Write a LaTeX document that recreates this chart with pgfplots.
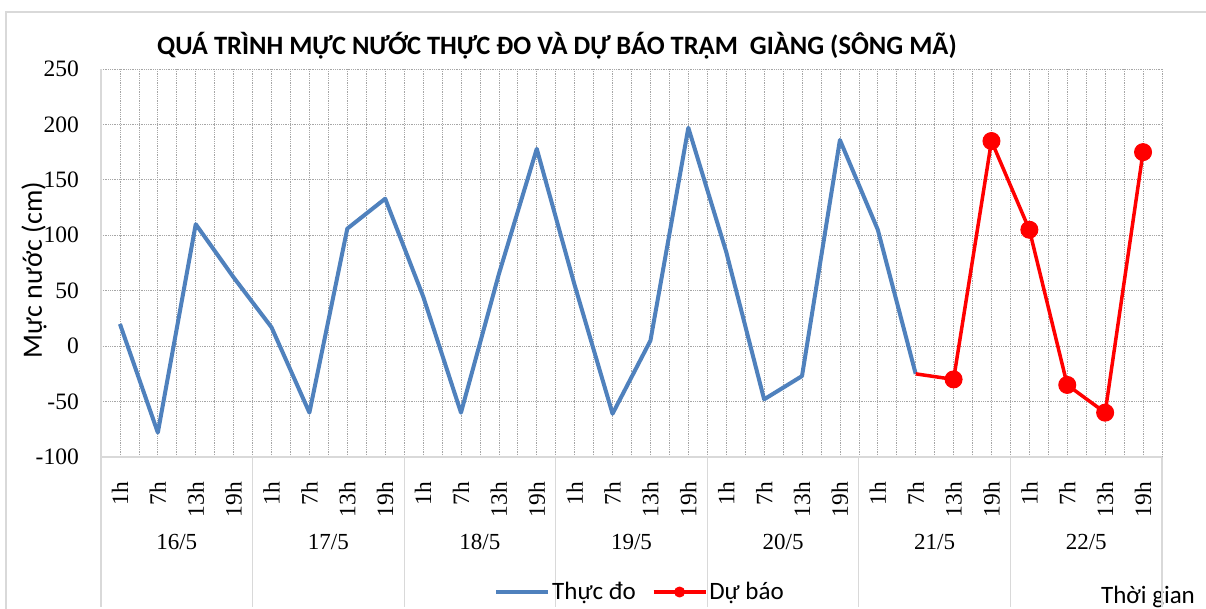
\documentclass[border=0pt]{standalone}
\usepackage{fontspec}
\setmainfont{Liberation Serif}
\newfontfamily\calfont{Carlito}
\usepackage{pgfplots}
\pgfplotsset{compat=1.18}
\definecolor{xlblue}{HTML}{4F81BD}
\definecolor{xlgrid}{HTML}{A6A6A6}
\definecolor{xlaxis}{HTML}{D9D9D9}
\begin{document}
\begin{tikzpicture}[x=1pt,y=1pt]
\useasboundingbox (0,0) rectangle (1206,609);
\fill[white] (0,0) rectangle (1206,609);
% chart frame
\draw[xlaxis, line width=1.2pt] (6,0) -- (6,597) -- (1206,597);
% title
\node[font=\calfont\bfseries\fontsize{26.5}{28}\selectfont, inner sep=0pt] at (557,563) {QUÁ TRÌNH MỰC NƯỚC THỰC ĐO VÀ DỰ BÁO TRẠM~ GIÀNG (SÔNG MÃ)};
% y label
\node[font=\calfont\fontsize{28}{30}\selectfont, rotate=90, inner sep=0pt] at (34,339) {Mực nước (cm)};
% x label
\node[font=\calfont\fontsize{25}{27}\selectfont, inner sep=0pt] at (1148,12) {Thời gian};
\begin{axis}[
  at={(101pt,152pt)}, anchor=south west,
  scale only axis, width=1061pt, height=388pt,
  xmin=-0.5, xmax=27.5, ymin=-100, ymax=250,
  ytick={-100,-50,...,250},
  xtick={0,...,27},
  xticklabels={1h,7h,13h,19h,1h,7h,13h,19h,1h,7h,13h,19h,1h,7h,13h,19h,1h,7h,13h,19h,1h,7h,13h,19h,1h,7h,13h,19h},
  minor xtick={-0.5,0.5,...,27.5},
  xmajorgrids, xminorgrids, ymajorgrids,
  major grid style={xlgrid, line width=0.7pt, dash pattern=on 0.9pt off 0.9pt},
  minor grid style={xlgrid, line width=0.7pt, dash pattern=on 0.9pt off 0.9pt},
  axis x line*=bottom, axis y line*=left,
  axis line style={xlaxis, line width=1.2pt, -},
  major tick length=0pt, minor tick length=0pt,
  xticklabel style={rotate=90, anchor=east, inner sep=0pt, font=\fontsize{23.5}{23.5}\selectfont},
  xticklabel shift=25pt,
  yticklabel style={anchor=east, inner sep=0pt, font=\fontsize{23.5}{23.5}\selectfont},
  yticklabel shift=22pt,
  /pgf/number format/assume math mode=true,
  clip=false,
  legend columns=2,
  legend style={at={(0.508,-0.348)}, anchor=center, draw=none, fill=none,
    font=\calfont\fontsize{25}{27}\selectfont, inner sep=0pt,
    /tikz/every even column/.append style={column sep=14pt}},
  legend image code/.code={\draw[#1, mark size=5pt, mark repeat=2, mark phase=2] plot coordinates {(0pt,0pt) (26pt,0pt) (52pt,0pt)};},
]
\addplot[xlblue, line width=4pt, line join=round] coordinates {
(0,20) (1,-78) (2,110) (3,62)
(4,17) (5,-60) (6,106) (7,133)
(8,45) (9,-60) (10,65) (11,178)
(12,55) (13,-61) (14,5) (15,197)
(16,85) (17,-48) (18,-27) (19,186)
(20,105) (21,-25)
};
\addlegendentry{Thực đo}
\addplot[red, line width=3.5pt, line join=round, mark=*, mark size=8.5pt, mark options={fill=red, line width=1pt}, mark phase=2, mark repeat=1] coordinates {
(21,-25) (22,-30) (23,185)
(24,105) (25,-35) (26,-60) (27,175)
};
\addlegendentry{Dự báo}
% day separators
\pgfplotsinvokeforeach{-0.5,3.5,7.5,11.5,15.5,19.5,23.5,27.5}{
  \draw[xlaxis, line width=1.2pt] (axis cs:#1,-100) -- ++(0pt,-150pt);
}
\node[font=\fontsize{23}{23}\selectfont, inner sep=0pt] at (axis cs:1.5,-100) [yshift=-85pt] {16/5};
\node[font=\fontsize{23}{23}\selectfont, inner sep=0pt] at (axis cs:5.5,-100) [yshift=-85pt] {17/5};
\node[font=\fontsize{23}{23}\selectfont, inner sep=0pt] at (axis cs:9.5,-100) [yshift=-85pt] {18/5};
\node[font=\fontsize{23}{23}\selectfont, inner sep=0pt] at (axis cs:13.5,-100) [yshift=-85pt] {19/5};
\node[font=\fontsize{23}{23}\selectfont, inner sep=0pt] at (axis cs:17.5,-100) [yshift=-85pt] {20/5};
\node[font=\fontsize{23}{23}\selectfont, inner sep=0pt] at (axis cs:21.5,-100) [yshift=-85pt] {21/5};
\node[font=\fontsize{23}{23}\selectfont, inner sep=0pt] at (axis cs:25.5,-100) [yshift=-85pt] {22/5};
\end{axis}
\end{tikzpicture}
\end{document}
